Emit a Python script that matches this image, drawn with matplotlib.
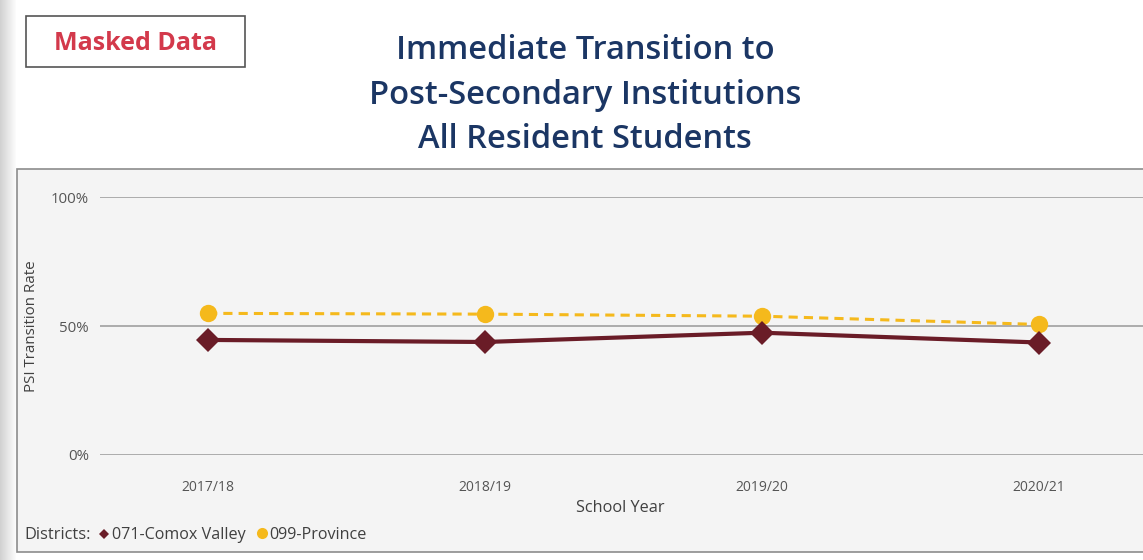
import matplotlib
matplotlib.use("Agg")
import matplotlib.pyplot as plt
from matplotlib.patches import Rectangle
from matplotlib.lines import Line2D

years = ["2017/18", "2018/19", "2019/20", "2020/21"]
comox = [44.6, 43.8, 47.4, 43.6]
province = [54.9, 54.6, 53.8, 50.6]

MAROON = "#6a1c27"
GOLD = "#f5b91c"
NAVY = "#1b3664"
GREY_TXT = "#555555"

plt.rcParams["font.family"] = ["Open Sans", "DejaVu Sans"]

W, H = 1143, 560
fig = plt.figure(figsize=(W / 100, H / 100), dpi=100)
fig.patch.set_facecolor("white")


def fx(px):
    return px / W


def fy(py):
    return 1 - py / H


# grey shading strip on the left edge
for i in range(16):
    shade = 0.82 + 0.011 * i
    fig.add_artist(Rectangle((fx(i), 0), fx(1.2), 1, transform=fig.transFigure,
                             facecolor=(shade, shade, shade), edgecolor="none",
                             zorder=-10))

# chart panel
fig.add_artist(Rectangle((fx(17), fy(552)), fx(1143 - 17 + 5), fy(169) - fy(552),
                         transform=fig.transFigure, facecolor="#f4f4f4",
                         edgecolor="#8c8c8c", linewidth=1.2, zorder=-10))

# masked data badge
fig.add_artist(Rectangle((fx(26), fy(67)), fx(219), fy(16) - fy(67),
                         transform=fig.transFigure, facecolor="white",
                         edgecolor="#555555", linewidth=1.2, zorder=-10))
fig.text(fx(136), fy(43), "Masked Data", color="#d3394b", fontsize=18,
         fontweight="bold", ha="center", va="center")

# title
fig.text(fx(585), fy(95), "Immediate Transition to\nPost-Secondary Institutions\nAll Resident Students",
         color=NAVY, fontsize=23.5, fontweight="semibold", ha="center", va="center",
         linespacing=1.45)

ax = fig.add_axes([fx(100), fy(455), fx(1143 - 100), fy(197) - fy(455)])
ax.set_facecolor("none")
x = list(range(len(years)))

ax.plot(x, province, color=GOLD, lw=2.2, ls=(0, (3, 2)), marker="o",
        markersize=12.5, markeredgewidth=0, zorder=3)
ax.plot(x, comox, color=MAROON, lw=3.0, marker="D",
        markersize=12.5, markeredgewidth=0, zorder=4)

ax.set_xlim(-0.39, 3.375)
ax.set_ylim(0, 100)
ax.set_yticks([0, 50, 100])
ax.set_yticklabels(["0%", "50%", "100%"])
ax.set_xticks(x)
ax.set_xticklabels(years)
ax.grid(axis="y", color="#a6a6a6", lw=1.3)
ax.set_axisbelow(True)
for s in ax.spines.values():
    s.set_visible(False)
ax.tick_params(axis="both", length=0, labelsize=10, labelcolor=GREY_TXT)
ax.tick_params(axis="y", pad=8, labelsize=10.8)
ax.tick_params(axis="x", pad=18)

fig.text(fx(32), fy(326), "PSI Transition Rate", rotation=90, color="#404040",
         fontsize=10.9, ha="center", va="center")
fig.text(fx(620), fy(508), "School Year", color="#404040", fontsize=11.7,
         ha="center", va="center")

# legend row
fig.text(fx(24), fy(535), "Districts:", color="#404040", fontsize=11.8,
         ha="left", va="center")
fig.add_artist(Line2D([fx(104)], [fy(534)], transform=fig.transFigure, marker="D",
                      markersize=5.5, color=MAROON, markeredgewidth=0))
fig.text(fx(112), fy(535), "071-Comox Valley", color="#404040", fontsize=11.6,
         ha="left", va="center")
fig.add_artist(Line2D([fx(262)], [fy(533)], transform=fig.transFigure, marker="o",
                      markersize=8, color=GOLD, markeredgewidth=0))
fig.text(fx(269), fy(535), "099-Province", color="#404040", fontsize=11.6,
         ha="left", va="center")

fig.savefig("out.png", dpi=100)
